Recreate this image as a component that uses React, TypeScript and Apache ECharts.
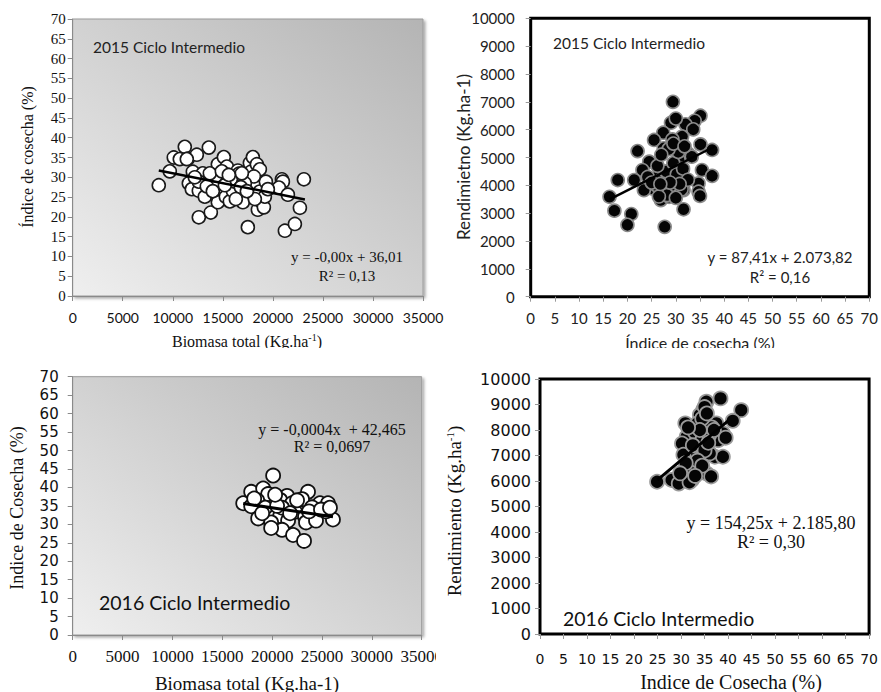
import React, { useEffect, useRef } from "react";
import * as echarts from "echarts";

// 2015 – Biomasa total (kg/ha) vs Índice de cosecha (%)
const bio2015: number[] = [8600, 9700, 10100, 10700, 11200, 11500, 12400, 12000, 11600, 11900, 12600, 13000, 12600, 13200, 13600, 13500, 13800, 14100, 14500, 14300, 14600, 14500, 15100, 15400, 15500, 15300, 15700, 16000, 16500, 16600, 16200, 17000, 17500, 17700, 18000, 17800, 18400, 18700, 18400, 18700, 18500, 18800, 19100, 19200, 19300, 18100, 17200, 20900, 21000, 20600, 21200, 21500, 22200, 22700, 23100, 13700, 12600, 13400, 15800, 14900, 16800, 12200, 19500, 14000, 16300, 18200, 17400, 15200, 11400, 16900, 15600];
const ic2015a: number[] = [28, 31.5, 35, 34.6, 37.7, 34.7, 35.7, 31.4, 28.5, 27, 26.6, 31, 19.9, 25.1, 37.5, 28.9, 21.1, 28.1, 33.3, 30.4, 26, 23.7, 35.1, 32.7, 30.6, 25.1, 23.9, 26.6, 31.7, 30.9, 28.9, 23.7, 17.4, 33.6, 35.1, 31.4, 33.3, 32, 28.1, 26.4, 21.8, 23.9, 22.4, 25.1, 28.9, 30.2, 28.5, 29.5, 28.9, 27.4, 16.5, 25.6, 18.2, 22.3, 29.5, 31, 28.9, 27.7, 29.5, 31.5, 27.5, 30, 27, 26.5, 24.5, 24.5, 26.5, 28, 34.6, 31.0, 30.6];

// 2015 – Índice de cosecha (%) vs Rendimiento (kg/ha)
const ic2015b: number[] = [29.4, 35.1, 33.9, 29, 32, 33.6, 30, 27.4, 31.3, 25.5, 29.3, 22.1, 27.5, 37.5, 35.1, 32.5, 30.6, 33.3, 24.5, 23.1, 35.4, 37.5, 18, 21.4, 26.5, 28.6, 34.7, 31.6, 25.1, 23.4, 16.3, 34.7, 35, 26.9, 28.6, 29.9, 17.3, 20.8, 31.6, 20, 27.7, 31.2, 26, 27, 28, 29.5, 30.5, 28.5, 26.2, 27.8, 29, 30.2, 31.5, 24.2, 28.2, 30, 26.5, 25, 32.5, 29.5, 31.8, 27, 30.8, 28.8, 26.8];
const rend2015: number[] = [7000, 6500, 6320, 6250, 6190, 6010, 6400, 5890, 5750, 5630, 5650, 5230, 5330, 5270, 5470, 5150, 4910, 5030, 4850, 4550, 4550, 4340, 4190, 4190, 4370, 4190, 4070, 3830, 3890, 3830, 3590, 3770, 3620, 3470, 3590, 3700, 3090, 2970, 3140, 2580, 2510, 3850, 4000, 4200, 4500, 4800, 5200, 5300, 4700, 3900, 4000, 4400, 4600, 4300, 3650, 3550, 3600, 4100, 4200, 5500, 5400, 5100, 4050, 4100, 4050];

// 2016 – Biomasa total (kg/ha) vs Índice de cosecha (%)
const bio2016: number[] = [20100, 17100, 17900, 19100, 19600, 21500, 23600, 23000, 18500, 20800, 22000, 24800, 25600, 24000, 17900, 19800, 18600, 20800, 22300, 24300, 26100, 21600, 23300, 19900, 21000, 22100, 23200, 19900, 23400, 24400, 23700, 25400, 19300, 21000, 22500, 18200, 20500, 24900, 19000, 21800, 20300, 25800];
const ic2016a: number[] = [43.2, 35.7, 38.8, 39.7, 38.2, 37.7, 38.8, 36.8, 36.5, 36.6, 35.7, 35.7, 35.7, 34.6, 34.9, 32.8, 31.6, 32.2, 33.4, 31.6, 31.3, 31, 32.1, 30.5, 28.5, 27.1, 25.5, 29, 30.5, 31, 33.5, 33.5, 34.5, 34.5, 36.5, 37, 35, 34, 33, 33, 38, 34.5];

// 2016 – Índice de cosecha (%) vs Rendimiento (kg/ha)
const ic2016b: number[] = [38.4, 35.4, 42.8, 34.7, 34, 41, 30.9, 33.5, 37.5, 36.5, 38.9, 31.2, 30.2, 37.9, 33.7, 31.9, 37.2, 38.9, 30.5, 36.1, 32.3, 35.4, 36.4, 30.2, 32.3, 28, 24.9, 29.5, 31.8, 35, 34.5, 35.5, 33, 34.5, 36, 32.5, 35, 33.5, 34.5, 31, 29.8, 33, 35.8, 37, 39.5, 34, 31.5];
const rend2016: number[] = [9240, 9110, 8780, 8780, 8590, 8360, 8260, 8260, 8260, 8100, 7870, 7730, 7470, 7600, 7280, 7020, 6950, 6950, 7030, 7080, 6490, 6300, 6180, 6170, 6040, 6040, 5970, 5900, 5950, 8900, 8450, 8650, 7900, 7600, 7800, 7400, 7200, 6800, 6600, 6700, 6300, 6200, 7500, 8000, 7700, 8000, 8100];

// Linear fits: [slope, intercept, xStart, xEnd]
const fit2015a = [-0.0005, 36.01, 8600, 23200];
const fit2015b = [87.41, 2073.82, 16.3, 38];
const fit2016a = [-0.0004, 42.465, 17100, 26100];
const fit2016b = [154.25, 2185.8, 25, 40];

const SANS = 'Lato, "Open Sans", sans-serif';
const WIDE = '"DejaVu Sans", sans-serif';
const SERIF = '"Liberation Serif", "Times New Roman", serif';

const pairs = (xs: number[], ys: number[]) => xs.map((x, i) => [x, ys[i]]);
const fitLine = (f: number[]) => [
  [f[2], f[0] * f[2] + f[1]],
  [f[3], f[0] * f[3] + f[1]],
];

const grayGradient = {
  type: "linear",
  x: 0,
  y: 1,
  x2: 1,
  y2: 0,
  colorStops: [
    { offset: 0, color: "#efefef" },
    { offset: 1, color: "#b4b4b4" },
  ],
};

function txt(x: number, y: number, text: string, font: string, size: number, opts: any = {}) {
  return {
    type: "text",
    x,
    y,
    rotation: opts.rotation || 0,
    z: 10,
    style: {
      text,
      fontFamily: font,
      fontSize: size,
      fill: opts.fill || "#111",
      align: opts.align || "center",
      verticalAlign: "middle",
      rich: opts.rich,
    },
  };
}

const supRich = (size: number) => ({
  sup: { fontSize: size, fontFamily: SERIF, fill: "#111", verticalAlign: "top", padding: [0, 0, 8, 0] },
});

const plain = (v: number) => String(v);

export default function App() {
  const ref = useRef<HTMLDivElement>(null);

  useEffect(() => {
    if (!ref.current) return;
    const chart = echarts.init(ref.current, undefined, { renderer: "svg" });

    const axisBase = (gridIndex: number, min: number, max: number, interval: number, lbl: any, tickColor: string, lineColor: string, lineWidth: number) => ({
      type: "value",
      gridIndex,
      min,
      max,
      interval,
      splitLine: { show: false },
      axisLine: { show: true, onZero: false, lineStyle: { color: lineColor, width: lineWidth } },
      axisTick: { show: true, inside: false, length: 5, lineStyle: { color: tickColor } },
      axisLabel: { color: "#111", formatter: plain, ...lbl },
    });

    const option: any = {
      animation: false,
      backgroundColor: "#fff",
      grid: [
        { left: 72.7, top: 19, width: 350.3, height: 277, show: true, backgroundColor: grayGradient, borderColor: "#9a9a9a", borderWidth: 1, shadowColor: "rgba(0,0,0,0.35)", shadowBlur: 3, shadowOffsetX: 2, shadowOffsetY: 2 },
        { left: 530.7, top: 18.3, width: 341.3, height: 278.4, show: true, backgroundColor: "#fff", borderColor: "#000", borderWidth: 3 },
        { left: 72.7, top: 376.7, width: 349, height: 258.3, show: true, backgroundColor: grayGradient, borderColor: "#9a9a9a", borderWidth: 1, shadowColor: "rgba(0,0,0,0.35)", shadowBlur: 3, shadowOffsetX: 2, shadowOffsetY: 2 },
        { left: 540, top: 379, width: 332.7, height: 255, show: true, backgroundColor: "#fff", borderColor: "#000", borderWidth: 3 },
      ],
      xAxis: [
        axisBase(0, 0, 35000, 5000, { fontFamily: SANS, fontSize: 14, margin: 14 }, "#8a8a8a", "#8a8a8a", 1),
        axisBase(1, 0, 70, 5, { fontFamily: SANS, fontSize: 15, margin: 14, color: "#222" }, "#999", "#000", 2),
        axisBase(2, 0, 35000, 5000, { fontFamily: SERIF, fontSize: 17, margin: 13 }, "#8a8a8a", "#8a8a8a", 1),
        axisBase(3, 0, 70, 5, { fontFamily: WIDE, fontSize: 14, margin: 18 }, "#999", "#000", 2),
      ],
      yAxis: [
        axisBase(0, 0, 70, 5, { fontFamily: SERIF, fontSize: 15, margin: 7 }, "#8a8a8a", "#8a8a8a", 1),
        axisBase(1, 0, 10000, 1000, { fontFamily: SANS, fontSize: 15, margin: 16, color: "#222" }, "#999", "#000", 2),
        axisBase(2, 0, 70, 5, { fontFamily: WIDE, fontSize: 15, margin: 14 }, "#8a8a8a", "#8a8a8a", 1),
        axisBase(3, 0, 10000, 1000, { fontFamily: WIDE, fontSize: 16, margin: 9 }, "#999", "#000", 2),
      ],
      series: [
        { type: "scatter", xAxisIndex: 0, yAxisIndex: 0, data: pairs(bio2015, ic2015a), symbolSize: 13, itemStyle: { color: "#fff", borderColor: "#1a1a1a", borderWidth: 1.6, opacity: 1 }, z: 2 },
        { type: "line", xAxisIndex: 0, yAxisIndex: 0, data: fitLine(fit2015a), showSymbol: false, symbol: "none", lineStyle: { color: "#000", width: 2.5 }, z: 3 },
        { type: "scatter", xAxisIndex: 1, yAxisIndex: 1, data: pairs(ic2015b, rend2015), symbolSize: 13, itemStyle: { color: "#050505", borderColor: "#8a8a8a", borderWidth: 1.6, opacity: 1 }, z: 2 },
        { type: "line", xAxisIndex: 1, yAxisIndex: 1, data: fitLine(fit2015b), showSymbol: false, symbol: "none", lineStyle: { color: "#000", width: 2.5 }, z: 3 },
        { type: "scatter", xAxisIndex: 2, yAxisIndex: 2, data: pairs(bio2016, ic2016a), symbolSize: 14, itemStyle: { color: "#fff", borderColor: "#111", borderWidth: 1.8, opacity: 1 }, z: 2 },
        { type: "line", xAxisIndex: 2, yAxisIndex: 2, data: fitLine(fit2016a), showSymbol: false, symbol: "none", lineStyle: { color: "#000", width: 3 }, z: 3 },
        { type: "scatter", xAxisIndex: 3, yAxisIndex: 3, data: pairs(ic2016b, rend2016), symbolSize: 14, itemStyle: { color: "#050505", borderColor: "#9a9a9a", borderWidth: 1.8, opacity: 1 }, z: 2 },
        { type: "line", xAxisIndex: 3, yAxisIndex: 3, data: fitLine(fit2016b), showSymbol: false, symbol: "none", lineStyle: { color: "#000", width: 3 }, z: 3 },
      ],
      graphic: [
        // top-left panel
        txt(93, 47, "2015 Ciclo Intermedio", SANS, 15.5, { align: "left", fill: "#222" }),
        txt(347, 257, "y = -0,00x + 36,01", SERIF, 15),
        txt(347, 276, "R² = 0,13", SERIF, 15),
        txt(27, 157, "Índice de cosecha (%)", SERIF, 16, { rotation: Math.PI / 2 }),
        txt(247, 341, "Biomasa total (Kg.ha{sup|-1})", SERIF, 16, { rich: supRich(10) }),
        // top-right panel
        txt(553, 43, "2015 Ciclo Intermedio", SANS, 15.5, { align: "left", fill: "#222" }),
        txt(780, 257, "y = 87,41x + 2.073,82", SANS, 15, { fill: "#222" }),
        txt(780, 277, "R² = 0,16", SANS, 15, { fill: "#222" }),
        txt(463, 157, "Rendimietno (Kg.ha-1)", SANS, 17, { rotation: Math.PI / 2, fill: "#222" }),
        txt(700, 342, "Índice de cosecha (%)", SANS, 16, { fill: "#222" }),
        // band hiding the lower part of the top titles
        { type: "rect", shape: { x: 0, y: 348, width: 881, height: 19 }, style: { fill: "#fff" }, z: 20 },
        // clipped right edge of the bottom-left tick labels
        { type: "rect", shape: { x: 436, y: 645, width: 30, height: 26 }, style: { fill: "#fff" }, z: 20 },
        // bottom-left panel
        txt(332, 429, "y = -0,0004x  + 42,465", SERIF, 16),
        txt(332, 446, "R² = 0,0697", SERIF, 16),
        txt(99, 602, "2016 Ciclo Intermedio", SANS, 19.5, { align: "left" }),
        txt(17, 508, "Indice de Cosecha (%)", SERIF, 18, { rotation: Math.PI / 2 }),
        txt(247, 683, "Biomasa total (Kg.ha-1)", SERIF, 19),
        // bottom-right panel
        txt(771, 523, "y = 154,25x + 2.185,80", SERIF, 18),
        txt(771, 542, "R² = 0,30", SERIF, 18),
        txt(563, 618, "2016 Ciclo Intermedio", SANS, 19.5, { align: "left" }),
        txt(454, 511, "Rendimiento (Kg.ha{sup|-1})", SERIF, 19, { rotation: Math.PI / 2, rich: supRich(11) }),
        txt(731, 682, "Indice de Cosecha (%)", SERIF, 20),
      ],
    };

    chart.setOption(option);
    return () => chart.dispose();
  }, []);

  return <div ref={ref} style={{ position: "absolute", left: 0, top: 0, width: 881, height: 692 }} />;
}
